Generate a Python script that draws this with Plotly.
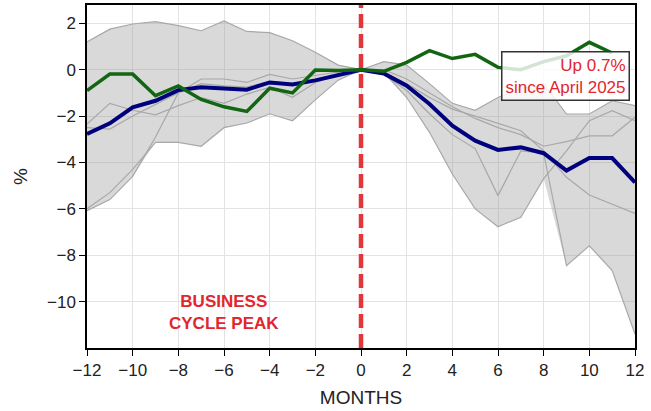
import plotly.graph_objects as go
import numpy as np

# ---------------- data ----------------
months = list(range(-12, 13))
green_months = list(range(-12, 12))

# current cycle (green), ends at month 11
current = [-0.9, -0.19, -0.19, -1.12, -0.7, -1.28, -1.6, -1.8, -0.8, -1.0, -0.01, -0.03,
           0.0, -0.07, 0.32, 0.82, 0.48, 0.66, 0.1, 0.0, 0.35, 0.6, 1.18, 0.72]

# average of past cycles (navy)
average = [-2.77, -2.31, -1.62, -1.34, -0.88, -0.76, -0.81, -0.86, -0.55, -0.64, -0.46, -0.22,
           0.0, -0.16, -0.69, -1.48, -2.41, -3.06, -3.46, -3.35, -3.6, -4.35, -3.81, -3.81, -4.86]

# individual past cycles (grey)
past1 = [1.2, 1.75, 1.97, 2.07, 1.9, 1.68, 2.1, 1.65, 1.6, 1.25, 0.75, 0.2,
         0.0, 0.35, 0.2, -0.6, -1.45, -1.75, -1.2, -0.8, -0.6, -1.91, -1.91, -1.34, -1.55]
past2 = [-6.0, -5.3, -4.3, -3.13, -3.13, -3.3, -2.5, -2.3, -1.9, -2.2, -1.3, -0.45,
         0.0, -0.2, -0.9, -1.9, -2.8, -3.4, -5.43, -3.5, -3.6, -8.45, -7.59, -8.66, -11.4]
past3 = [-6.08, -5.6, -4.6, -2.9, -1.0, -0.4, -0.4, -0.55, -0.2, -0.4, -0.25, -0.1,
         0.0, -0.1, -1.2, -2.7, -4.5, -6.0, -6.77, -6.36, -4.7, -3.5, -2.2, -1.77, -2.2]
past4 = [-2.34, -1.45, -1.75, -1.95, -1.55, -1.2, -1.45, -1.05, -0.76, -1.19, -0.55, -0.2,
         0.0, 0.0, -0.4, -1.0, -1.6, -2.1, -2.5, -2.8, -3.3, -3.1, -2.85, -2.85, -2.05]
past5 = [-2.5, -2.56, -2.0, -1.5, -1.0, -0.6, -0.7, -0.75, -0.5, -0.6, -0.45, -0.2,
         0.0, -0.1, -0.6, -1.2, -1.7, -2.0, -2.3, -2.63, -3.5, -4.64, -5.4, -5.8, -6.2]
past_cycles = [past1, past2, past3, past4, past5]

x_ticks = list(range(-12, 13, 2))
y_ticks = list(range(-10, 3, 2))
peak_month = 0
note_text = "Up 0.7%<br>since April 2025"
peak_text = "<b>BUSINESS<br>CYCLE PEAK</b>"

# ---------------- styles ----------------
RED = "#e2262e"
FONT = "Liberation Sans, Arial, Helvetica, sans-serif"

fig = go.Figure()

arr = np.array(past_cycles)
upper = arr.max(axis=0)
lower = arr.min(axis=0)

fig.add_trace(go.Scatter(x=months, y=upper, mode="lines", line=dict(width=0),
                         hoverinfo="skip", showlegend=False))
fig.add_trace(go.Scatter(x=months, y=lower, mode="lines", line=dict(width=0),
                         fill="tonexty", fillcolor="rgba(150,150,150,0.36)",
                         hoverinfo="skip", showlegend=False))
for p in past_cycles:
    fig.add_trace(go.Scatter(x=months, y=p, mode="lines",
                             line=dict(color="#a8a8a8", width=1.2),
                             showlegend=False))

fig.add_trace(go.Scatter(x=months, y=average, mode="lines",
                         line=dict(color="#00007e", width=4),
                         showlegend=False))
fig.add_trace(go.Scatter(x=green_months, y=current, mode="lines",
                         line=dict(color="#126612", width=3.5),
                         showlegend=False))

fig.add_vline(x=peak_month, line=dict(color="#e3363a", width=4.5, dash="14px,6px"),
              layer="above")

fig.add_annotation(x=11.8, y=-0.26, xref="x", yref="y", text=note_text,
                   showarrow=False, xanchor="right", yanchor="middle", align="right",
                   font=dict(family=FONT, size=17, color=RED),
                   bgcolor="rgba(255,255,255,0.82)", bordercolor="#333333",
                   borderwidth=1.5, borderpad=3)

fig.add_annotation(x=-6.0, y=-10.47, xref="x", yref="y", text=peak_text,
                   showarrow=False, xanchor="center", yanchor="middle", align="center",
                   font=dict(family=FONT, size=17, color=RED))

axis_common = dict(showline=True, linecolor="black", linewidth=1.5, mirror=True,
                   showgrid=True, gridcolor="#e3e3e3", gridwidth=1, zeroline=False,
                   ticks="outside", ticklen=6, tickwidth=1.2, tickcolor="black",
                   tickfont=dict(family=FONT, size=17, color="#222222"))

fig.update_xaxes(range=[-12, 12], tickvals=x_ticks,
                 title=dict(text="MONTHS", font=dict(family=FONT, size=19, color="#222222"),
                            standoff=12),
                 **axis_common)
fig.update_yaxes(range=[-12.0, 2.79], tickvals=y_ticks,
                 title=dict(text="%", font=dict(family=FONT, size=19, color="#222222"),
                            standoff=14),
                 **axis_common)

fig.update_layout(width=651, height=411,
                  margin=dict(l=87, r=16, t=5, b=63, autoexpand=False),
                  plot_bgcolor="white", paper_bgcolor="white",
                  showlegend=False, font=dict(family=FONT))

fig.write_html("out.html")
